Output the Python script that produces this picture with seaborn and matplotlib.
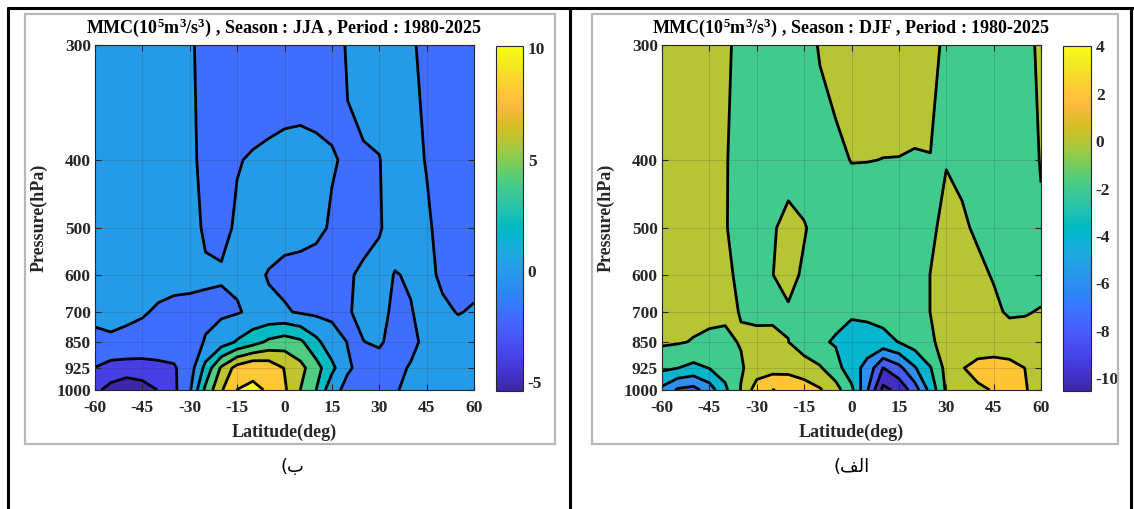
import numpy as np
import matplotlib
matplotlib.use("Agg")
import matplotlib.pyplot as plt
from matplotlib.colors import Normalize
from matplotlib.lines import Line2D
from matplotlib.patches import Rectangle
import seaborn as sns

# ---------------- data ----------------
LATS = [-60, -55, -50, -45, -40, -35, -30, -25, -20, -15, -10, -5, 0,
        5, 10, 15, 20, 25, 30, 35, 40, 45, 50, 55, 60]
LEVELS = [300, 400, 500, 600, 700, 850, 925, 1000]

# JJA (left panel), one list per pressure level, values along LATS
jja_300 = [0.8, 0.8, 0.8, 0.7, 0.6, 0.5, 0.3, -0.7, -0.9, -1.0, -1.0, -1.0, -1.0,
           -1.0, -0.9, -0.7, 0.15, 0.5, 0.6, 0.6, 0.3, -0.6, -0.8, -0.8, -0.8]
jja_400 = [0.9, 0.9, 0.9, 0.8, 0.7, 0.6, 0.4, -0.5, -0.7, -0.06, 0.10, 0.23, 0.37,
           0.43, 0.28, 0.10, -0.16, -0.1, -0.03, 0.4, 0.3, -0.05, -0.6, -0.7, -0.7]
jja_500 = [1.0, 1.0, 1.0, 0.9, 0.8, 0.7, 0.5, -0.2, -0.3, 0.15, 0.6, 0.7, 0.7,
           0.6, 0.3, -0.15, -0.5, -0.6, -0.1, 0.5, 0.5, 0.15, -0.3, -0.5, -0.5]
jja_600 = [1.0, 1.0, 0.9, 0.8, 0.6, 0.5, 0.4, 0.19, 0.12, 0.3, 0.4, -0.1, -0.5,
           -0.6, -0.6, -0.5, -0.2, 0.3, 0.4, -0.05, 0.1, 0.3, -0.2, -0.4, -0.3]
jja_700 = [0.3, 0.2, 0.25, 0.15, -0.2, -0.4, -0.4, -0.3, -0.3, -0.15, 0.35, 0.3, 0.2,
           -0.2, -0.4, -0.4, -0.1, 0.3, 0.3, -0.2, -0.05, 0.3, 0.2, -0.05, 0.1]
jja_850 = [-0.3, -0.1, -0.3, -0.6, -0.8, -1.0, -0.6, 0.1, 1.0, 2.2, 3.2, 4.4, 5.0,
           4.4, 2.5, 0.8, -0.05, -0.02, 0.15, -0.4, -0.3, 0.3, 0.5, 0.5, 0.4]
jja_925 = [-2.05, -2.8, -2.9, -2.8, -2.5, -2.2, -1.0, 2.6, 6.3, 8.8, 9.85, 9.4, 7.9,
           6.6, 4.8, 2.5, 0.2, -0.5, -0.5, -0.3, 0.1, 0.4, 0.4, 0.4, 0.4]
jja_1000 = [-3.6, -4.6, -5.4, -4.9, -3.95, -2.4, -0.3, 4.5, 7.8, 10.03, 10.1, 9.95, 8.3,
            6.0, 4.0, 0.6, -0.5, -0.6, -0.4, -0.1, 0.3, 0.5, 0.5, 0.5, 0.5]

# DJF (right panel)
djf_300 = [0.5, 0.5, 0.5, 0.4, 0.2, -0.3, -0.5, -0.6, -0.6, -0.5, 0.1, 0.4, 0.5,
           0.5, 0.5, 0.5, 0.4, 0.3, -0.2, -0.5, -0.6, -0.6, -0.5, -0.3, 0.2]
djf_400 = [0.6, 0.6, 0.5, 0.4, 0.1, -0.5, -0.8, -0.9, -0.9, -0.8, -0.46, -0.22, 0.03,
           0.02, -0.01, -0.015, -0.045, -0.02, -0.05, -0.3, -0.6, -0.6, -0.5, -0.4, 0.05]
djf_500 = [0.7, 0.7, 0.6, 0.5, 0.1, -0.6, -0.7, -0.2, 0.6, 0.1, -0.5, -0.6, -0.6,
           -0.6, -0.6, -0.6, -0.5, -0.2, 0.3, 0.2, -0.2, -0.5, -0.6, -0.5, -0.1]
djf_600 = [0.7, 0.7, 0.6, 0.5, 0.3, -0.3, -0.7, -0.02, 0.4, -0.2, -0.7, -0.8, -0.9,
           -0.9, -0.9, -0.8, -0.6, 0.02, 0.6, 0.6, 0.3, -0.1, -0.5, -0.6, -0.6]
djf_700 = [0.4, 0.4, 0.5, 0.5, 0.25, -0.05, -0.5, -0.4, -0.15, -0.6, -1.0, -1.4, -1.7,
           -1.5, -1.3, -1.0, -0.6, 0.02, 0.5, 0.6, 0.6, 0.3, -0.2, -0.1, 0.1]
djf_850 = [0.3, 0.15, -0.1, -0.4, -0.3, 0.1, 0.6, 0.5, 0.02, -1.0, -1.7, -2.2, -2.9,
           -3.0, -2.6, -1.95, -1.0, -0.2, 0.5, 0.8, 0.9, 0.9, 0.8, 0.6, 0.3]
djf_925 = [-1.6, -1.98, -2.5, -1.95, -1.2, -0.2, 0.9, 1.2, 1.2, 0.9, 0.2, -1.2, -3.2,
           -4.6, -8.05, -6.6, -4.2, -2.1, 0.6, 1.9, 2.6, 2.8, 2.6, 1.98, 1.5]
djf_1000 = [-4.5, -6.3, -6.7, -5.0, -2.4, 0.1, 3.0, 4.02, 3.9, 3.0, 2.2, 0.77, -1.5,
            -5.8, -10.55, -9.5, -7.0, -3.3, 0.3, 1.2, 1.7, 2.1, 2.6, 2.1, 1.4]

JJA_CLIM = (-5.4, 10.1)
DJF_CLIM = (-10.55, 4.02)
JJA_LEVELS = [-4, -2, 0, 2, 4, 6, 8, 10]
DJF_LEVELS = [-10, -8, -6, -4, -2, 0, 2, 4]
JJA_CTICKS = [-5, 0, 5, 10]
DJF_CTICKS = [-10, -8, -6, -4, -2, 0, 2, 4]
LAT_TICKS = [-60, -45, -30, -15, 0, 15, 30, 45, 60]
P_TICKS = [300, 400, 500, 600, 700, 850, 925, 1000]

TITLE_JJA = r"MMC(10$^{5}$m$^{3}$/s$^{3}$) , Season : JJA , Period : 1980-2025"
TITLE_DJF = r"MMC(10$^{5}$m$^{3}$/s$^{3}$) , Season : DJF , Period : 1980-2025"
XLABEL = "Latitude(deg)"
YLABEL = "Pressure(hPa)"
CAP_LEFT = "(\uFE8F"                 # ب)  (visual order)
CAP_RIGHT = "(\uFED2\uFEDF\uFE8D"    # الف) (visual order)

# ---------------- style ----------------
# distance of each pressure level from the top of the reference axis (0..1)
P_DEPTH = [0.0, 0.3333, 0.5304, 0.6667, 0.7739, 0.8609, 0.9362, 1.0]

PARULA = [
    (0.2422, 0.1504, 0.6603), (0.2504, 0.1650, 0.7076), (0.2578, 0.1818, 0.7511),
    (0.2647, 0.1978, 0.7952), (0.2706, 0.2147, 0.8364), (0.2751, 0.2342, 0.8710),
    (0.2783, 0.2559, 0.8991), (0.2803, 0.2782, 0.9221), (0.2813, 0.3006, 0.9414),
    (0.2810, 0.3228, 0.9579), (0.2795, 0.3447, 0.9717), (0.2760, 0.3667, 0.9829),
    (0.2699, 0.3892, 0.9906), (0.2602, 0.4123, 0.9952), (0.2440, 0.4358, 0.9988),
    (0.2206, 0.4603, 0.9973), (0.1963, 0.4847, 0.9892), (0.1834, 0.5074, 0.9798),
    (0.1786, 0.5289, 0.9682), (0.1764, 0.5499, 0.9520), (0.1687, 0.5703, 0.9359),
    (0.1540, 0.5902, 0.9218), (0.1460, 0.6091, 0.9079), (0.1380, 0.6276, 0.8973),
    (0.1248, 0.6459, 0.8883), (0.1113, 0.6635, 0.8763), (0.0952, 0.6798, 0.8598),
    (0.0689, 0.6948, 0.8394), (0.0297, 0.7082, 0.8163), (0.0036, 0.7203, 0.7917),
    (0.0067, 0.7312, 0.7660), (0.0433, 0.7411, 0.7394), (0.0964, 0.7500, 0.7120),
    (0.1408, 0.7584, 0.6842), (0.1717, 0.7670, 0.6554), (0.1938, 0.7758, 0.6251),
    (0.2161, 0.7843, 0.5923), (0.2470, 0.7918, 0.5567), (0.2906, 0.7973, 0.5188),
    (0.3406, 0.8008, 0.4789), (0.3909, 0.8029, 0.4354), (0.4456, 0.8024, 0.3909),
    (0.5044, 0.7993, 0.3480), (0.5616, 0.7942, 0.3045), (0.6174, 0.7876, 0.2612),
    (0.6720, 0.7793, 0.2227), (0.7242, 0.7698, 0.1910), (0.7738, 0.7598, 0.1646),
    (0.8203, 0.7498, 0.1535), (0.8634, 0.7406, 0.1596), (0.9035, 0.7330, 0.1774),
    (0.9393, 0.7288, 0.2100), (0.9728, 0.7298, 0.2394), (0.9956, 0.7434, 0.2371),
    (0.9970, 0.7659, 0.2199), (0.9952, 0.7893, 0.2028), (0.9892, 0.8136, 0.1885),
    (0.9786, 0.8386, 0.1766), (0.9676, 0.8639, 0.1643), (0.9610, 0.8890, 0.1537),
    (0.9597, 0.9135, 0.1423), (0.9628, 0.9373, 0.1265), (0.9691, 0.9606, 0.1064),
    (0.9769, 0.9839, 0.0805)]

sns.set_style("ticks")
plt.rcParams["font.family"] = ["Liberation Serif", "DejaVu Sans"]
plt.rcParams["font.weight"] = "bold"
plt.rcParams["axes.labelweight"] = "bold"
plt.rcParams["axes.titleweight"] = "bold"
plt.rcParams["mathtext.fontset"] = "custom"
plt.rcParams["mathtext.rm"] = "Liberation Serif:bold"
plt.rcParams["mathtext.it"] = "Liberation Serif:bold"
plt.rcParams["mathtext.bf"] = "Liberation Serif:bold"
plt.rcParams["contour.negative_linestyle"] = "solid"

cmap = sns.blend_palette(PARULA, n_colors=256, as_cmap=True)

P_ARR = np.array(LEVELS, float)
D_ARR = np.array(P_DEPTH, float)


def p_fwd(p):
    return np.interp(np.asarray(p, float), P_ARR, D_ARR)


def p_inv(y):
    return np.interp(np.asarray(y, float), D_ARR, P_ARR)


W, H = 1134, 509
fig = plt.figure(figsize=(W / 100, H / 100), dpi=100)
fig.patch.set_facecolor("white")

TXT = "0.15"
FS = 12.5


def panel(ax_rect, cax_rect, rows, clim, levels, cticks, title):
    ax = fig.add_axes(ax_rect)
    cax = fig.add_axes(cax_rect)
    Z = np.array(rows, float)
    X, Y = np.meshgrid(LATS, LEVELS)
    norm = Normalize(*clim)
    bounds = [clim[0] - 1e-6] + list(levels) + [clim[1] + 1e-6]
    colors = [cmap(norm(clim[0]))] + [cmap(norm(v)) for v in levels]
    ax.set_yscale("function", functions=(p_fwd, p_inv))
    ax.contourf(X, Y, Z, levels=bounds, colors=colors, antialiased=True)
    ax.contour(X, Y, Z, levels=levels, colors="k", linewidths=2.0,
               linestyles="solid")
    ax.set_xlim(-60, 60)
    ax.set_ylim(1000, 300)
    ax.set_xticks(LAT_TICKS)
    ax.set_xticklabels([str(v) for v in LAT_TICKS])
    ax.set_yticks(P_TICKS)
    ax.set_yticklabels([str(v) for v in P_TICKS])
    ax.minorticks_off()
    ax.tick_params(direction="in", top=True, right=True, length=4, width=0.8,
                   labelsize=FS, colors=TXT)
    ax.tick_params(axis="x", pad=7.5)
    ax.tick_params(axis="y", pad=3)
    ax.grid(True, color="0.15", alpha=0.18, linewidth=0.6)
    ax.set_axisbelow(False)
    for s in ax.spines.values():
        s.set_color(TXT)
        s.set_linewidth(0.8)
    ax.set_title(title, fontsize=13, fontweight="bold", pad=9, color="k")
    ax.set_xlabel(XLABEL, fontsize=13, fontweight="bold", color=TXT, labelpad=5)
    ax.set_ylabel(YLABEL, fontsize=13, fontweight="bold", color=TXT, labelpad=6)

    sm = plt.cm.ScalarMappable(norm=norm, cmap=cmap)
    cb = fig.colorbar(sm, cax=cax, ticks=cticks)
    cb.ax.set_yticklabels([str(v) for v in cticks])
    cb.outline.set_edgecolor(TXT)
    cb.outline.set_linewidth(0.8)
    cax.tick_params(direction="in", length=4, width=0.8, labelsize=FS, colors=TXT)
    cax.minorticks_off()
    return ax


jja = [jja_300, jja_400, jja_500, jja_600, jja_700, jja_850, jja_925, jja_1000]
djf = [djf_300, djf_400, djf_500, djf_600, djf_700, djf_850, djf_925, djf_1000]

panel([95 / W, 1 - 390 / H, 379 / W, 345 / H],
      [496 / W, 1 - 391 / H, 27 / W, 345 / H],
      jja, JJA_CLIM, JJA_LEVELS, JJA_CTICKS, TITLE_JJA)
panel([662 / W, 1 - 390 / H, 379 / W, 345 / H],
      [1063 / W, 1 - 391 / H, 28 / W, 345 / H],
      djf, DJF_CLIM, DJF_LEVELS, DJF_CTICKS, TITLE_DJF)

# panel frames (grey) and table lines (black)
for x0, x1 in [(25, 555), (592, 1118)]:
    fig.add_artist(Rectangle((x0 / W, 1 - 444 / H), (x1 - x0) / W, (444 - 14) / H,
                             fill=False, ec="0.72", lw=1.6,
                             transform=fig.transFigure))
fig.add_artist(Line2D([8 / W, 1], [1 - 8 / H, 1 - 8 / H], color="k", lw=2.2,
                      transform=fig.transFigure))
for xv in [8, 570, 1131]:
    fig.add_artist(Line2D([xv / W, xv / W], [0, 1 - 8 / H], color="k", lw=2.2,
                          transform=fig.transFigure))

fig.text(292 / W, 1 - 467 / H, CAP_LEFT, family=["DejaVu Sans"], fontsize=13,
         fontweight="normal", ha="center", va="center", color="k")
fig.text(852 / W, 1 - 467 / H, CAP_RIGHT, family=["DejaVu Sans"], fontsize=13,
         fontweight="normal", ha="center", va="center", color="k")

fig.savefig("out.png", dpi=100, facecolor="white")
